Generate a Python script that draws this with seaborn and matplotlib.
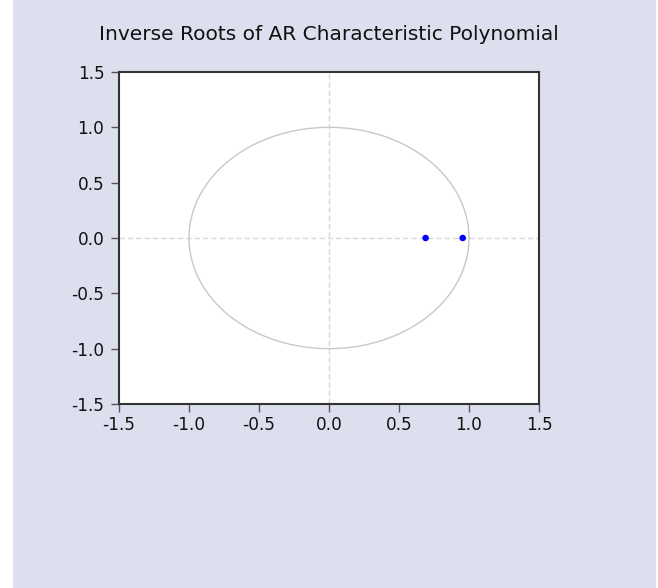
import numpy as np
import pandas as pd
import matplotlib
matplotlib.use("Agg")
import matplotlib.pyplot as plt
import seaborn as sns
from matplotlib.patches import Rectangle

title = "Inverse Roots of AR Characteristic Polynomial"
root_re = [0.69, 0.955]
root_im = [0.0, 0.0]
ticks = [-1.5, -1.0, -0.5, 0.0, 0.5, 1.0, 1.5]
tick_labels = ["-1.5", "-1.0", "-0.5", "0.0", "0.5", "1.0", "1.5"]

sns.set_style("white")
plt.rcParams['font.family'] = ['DejaVu Sans']

bg = '#DCDFEE'
fig = plt.figure(figsize=(6.58, 5.88), dpi=100, facecolor=bg)
fig.patches.append(Rectangle((0, 0), 13/658, 1, transform=fig.transFigure,
                             facecolor='white', edgecolor='none', zorder=-1))
fig.patches.append(Rectangle((656/658, 0), 2/658, 1, transform=fig.transFigure,
                             facecolor='white', edgecolor='none', zorder=-1))
ax = fig.add_axes([119/658, 1 - 404/588, 420/658, 332/588])
ax.set_facecolor('white')

# unit circle
t = np.linspace(0, 2*np.pi, 400)
ax.plot(np.cos(t), np.sin(t), color='#C8C8C8', lw=1.0, zorder=1)
ax.axhline(0, color='#D8D8D8', lw=1.0, ls=(0, (4, 2)), zorder=0)
ax.axvline(0, color='#D8D8D8', lw=1.0, ls=(0, (4, 2)), zorder=0)

df = pd.DataFrame({"re": root_re, "im": root_im})
sns.scatterplot(data=df, x="re", y="im", ax=ax, color='#0000FF', s=22,
                edgecolor='none', zorder=3)

ax.set_xlim(-1.5, 1.5)
ax.set_ylim(-1.5, 1.5)
ax.set_xticks(ticks)
ax.set_xticklabels(tick_labels)
ax.set_yticks(ticks)
ax.set_yticklabels(tick_labels)
ax.set_xlabel("")
ax.set_ylabel("")
ax.tick_params(axis='both', direction='out', length=6, width=1.0, color='#555555',
               labelsize=12.2, labelcolor='#111111', bottom=True, left=True)
ax.tick_params(axis='y', pad=4.5)
ax.tick_params(axis='x', pad=3)
for s in ax.spines.values():
    s.set_color('#333333')
    s.set_linewidth(1.5)

fig.text(329/658, 1 - 40/588, title, ha='center', va='baseline', fontsize=14.5, color='#111111')

fig.savefig("out.png", dpi=100, facecolor=bg)
